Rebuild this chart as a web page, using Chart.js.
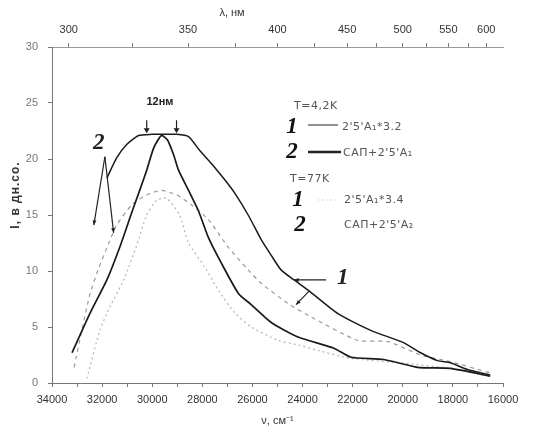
<!DOCTYPE html>
<html>
<head>
<meta charset="utf-8">
<script src="https://cdn.jsdelivr.net/npm/chart.js@4/dist/chart.umd.min.js"></script>
<style>
  body { margin: 0; background: #fff; }
  canvas { display: block; }
</style>
</head>
<body>
<canvas id="spectra" width="533" height="432"></canvas>
<script>
// wavenumber (cm-1) and intensity values
var nu_42_1 = [31810, 31420, 31020, 30540, 30020, 29550, 29030, 28550, 28120, 27640, 27160, 26720, 26170, 25650, 25250, 24860, 24340, 23780, 22590, 21280, 19970, 19290, 18610, 18100, 17420, 16510];
var int_42_1 = [18.3, 20.1, 21.3, 22.1, 22.2, 22.2, 22.2, 22.0, 20.8, 19.6, 18.3, 17.0, 15.0, 12.8, 11.4, 10.1, 9.2, 8.3, 6.2, 4.7, 3.6, 2.7, 2.0, 1.8, 1.2, 0.7];

var nu_42_2 = [33200, 32490, 31810, 31300, 30820, 30500, 30220, 29940, 29630, 29390, 29150, 28950, 28550, 28160, 27760, 27240, 26560, 26050, 25250, 24180, 22750, 22070, 20760, 19410, 18100, 16510];
var int_42_2 = [2.7, 6.2, 9.2, 12.1, 15.2, 17.2, 19.0, 21.0, 22.1, 21.7, 20.4, 19.0, 17.2, 15.4, 13.0, 10.7, 8.0, 7.0, 5.4, 4.1, 3.1, 2.3, 2.1, 1.4, 1.3, 0.6];

var nu_77_1 = [33120, 32810, 32490, 32130, 31730, 31420, 30820, 30220, 29630, 29030, 28430, 27760, 26960, 26170, 25650, 24580, 23660, 21790, 20600, 19290, 18100, 16510];
var int_77_1 = [1.4, 4.7, 7.9, 10.3, 12.5, 14.1, 15.9, 16.8, 17.2, 16.8, 15.9, 14.6, 12.1, 10.1, 8.9, 7.1, 5.9, 3.8, 3.7, 2.5, 1.9, 0.9];

var nu_77_2 = [32610, 32090, 31690, 31140, 30620, 30220, 29830, 29430, 28910, 28550, 27920, 27360, 26720, 26050, 24970, 24180, 23380, 22070, 20080, 18100, 16510];
var int_77_2 = [0.4, 4.7, 6.8, 9.2, 12.3, 15.0, 16.3, 16.5, 15.0, 12.5, 10.4, 8.3, 6.3, 5.0, 3.8, 3.4, 2.9, 2.2, 1.8, 1.3, 0.6];

// top axis: wavelength, nm
var lambdaMajor = [300, 350, 400, 450, 500, 550, 600];
var lambdaMinor = [325, 375, 425, 475, 525, 575];

// curve labels: [nu, I] of label and arrow ends
var label2 = { text: "2", at: [32130, 21.4], arrows: [[[31890, 20.2], [32330, 14.1]], [[31890, 20.2], [31540, 13.4]]] };
var label1 = { text: "1", at: [22400, 9.4], arrows: [[[23060, 9.2], [24340, 9.2]], [[23740, 8.2], [24260, 7.0]]] };
var peakMarks = [30220, 29030];

function pts(xs, ys) {
  return xs.map(function (x, i) { return { x: x, y: ys[i] }; });
}

var tickFont = { family: "Liberation Sans", size: 11 };

var annotate = {
  id: "annotate",
  afterDatasetsDraw: function (chart) {
    var ctx = chart.ctx;
    var xs = chart.scales.x, ys = chart.scales.y;
    function px(p) { return [xs.getPixelForValue(p[0]), ys.getPixelForValue(p[1])]; }
    ctx.save();
    ctx.strokeStyle = "#222";
    ctx.fillStyle = "#222";
    ctx.lineWidth = 1.2;
    [label2, label1].forEach(function (lab) {
      lab.arrows.forEach(function (a) {
        var p0 = px(a[0]), p1 = px(a[1]);
        ctx.beginPath();
        ctx.moveTo(p0[0], p0[1]);
        ctx.lineTo(p1[0], p1[1]);
        ctx.stroke();
        var ang = Math.atan2(p1[1] - p0[1], p1[0] - p0[0]);
        ctx.beginPath();
        ctx.moveTo(p1[0], p1[1]);
        ctx.lineTo(p1[0] - 5 * Math.cos(ang - 0.4), p1[1] - 5 * Math.sin(ang - 0.4));
        ctx.lineTo(p1[0] - 5 * Math.cos(ang + 0.4), p1[1] - 5 * Math.sin(ang + 0.4));
        ctx.closePath();
        ctx.fill();
      });
      var lp = px(lab.at);
      ctx.font = "italic bold 23px 'Liberation Serif'";
      ctx.textAlign = "center";
      ctx.textBaseline = "middle";
      ctx.fillText(lab.text, lp[0], lp[1]);
    });
    // small arrows over the two maxima
    peakMarks.forEach(function (v) {
      var x = xs.getPixelForValue(v), y = ys.getPixelForValue(22.3);
      ctx.beginPath();
      ctx.moveTo(x, y - 13);
      ctx.lineTo(x, y - 2);
      ctx.stroke();
      ctx.beginPath();
      ctx.moveTo(x, y);
      ctx.lineTo(x - 3, y - 5);
      ctx.lineTo(x + 3, y - 5);
      ctx.closePath();
      ctx.fill();
    });
    ctx.font = "bold 11px 'Liberation Sans'";
    ctx.textAlign = "center";
    ctx.fillText("12нм", 160, 102);

    // legend
    ctx.textAlign = "left";
    ctx.textBaseline = "middle";
    ctx.fillStyle = "#555";
    ctx.font = "11px 'DejaVu Sans'";
    ctx.letterSpacing = "0.5px";
    ctx.fillText("T=4,2K", 294, 106);
    ctx.fillText("T=77K", 290, 179);
    ctx.fillText("2'5'A\u2081*3.2", 342, 127);
    ctx.fillText("САП+2'5'A\u2081", 343, 153);
    ctx.fillText("2'5'A\u2081*3.4", 344, 200);
    ctx.fillText("САП+2'5'A\u2082", 344, 225);
    ctx.letterSpacing = "0px";
    ctx.fillStyle = "#111";
    ctx.textAlign = "center";
    ctx.font = "italic bold 23px 'Liberation Serif'";
    ctx.fillText("1", 292, 127);
    ctx.fillText("2", 292, 152);
    ctx.fillText("1", 298, 200);
    ctx.fillText("2", 300, 225);
    ctx.strokeStyle = "#555";
    ctx.lineWidth = 1.3;
    ctx.beginPath(); ctx.moveTo(308, 125); ctx.lineTo(338, 125); ctx.stroke();
    ctx.strokeStyle = "#222";
    ctx.lineWidth = 2.5;
    ctx.beginPath(); ctx.moveTo(308, 152); ctx.lineTo(341, 152); ctx.stroke();
    ctx.strokeStyle = "#ddd";
    ctx.lineWidth = 1;
    ctx.setLineDash([2, 2]);
    ctx.beginPath(); ctx.moveTo(318, 200); ctx.lineTo(338, 200); ctx.stroke();
    ctx.setLineDash([]);

    // axis titles
    ctx.fillStyle = "#333";
    ctx.font = "11px 'Liberation Sans'";
    ctx.textAlign = "center";
    ctx.fillText("λ, нм", 232, 13);
    ctx.translate(16, 195);
    ctx.rotate(-Math.PI / 2);
    ctx.font = "bold 12px 'Liberation Sans'";
    ctx.letterSpacing = "1px";
    ctx.fillText("I, в дн.со.", 0, 0);
    ctx.restore();
  }
};

new Chart(document.getElementById("spectra"), {
  type: "line",
  data: {
    datasets: [
      { label: "4.2K 1", data: pts(nu_42_1, int_42_1), borderColor: "#1a1a1a", borderWidth: 1.5 },
      { label: "4.2K 2", data: pts(nu_42_2, int_42_2), borderColor: "#1a1a1a", borderWidth: 1.7 },
      { label: "77K 1", data: pts(nu_77_1, int_77_1), borderColor: "#9a9a9a", borderWidth: 1.2, borderDash: [4, 4] },
      { label: "77K 2", data: pts(nu_77_2, int_77_2), borderColor: "#b5b5b5", borderWidth: 1.2, borderDash: [2, 3] }
    ]
  },
  options: {
    responsive: false,
    animation: false,
    devicePixelRatio: 1,
    layout: { padding: { left: 0, right: 30, top: 0, bottom: 0 } },
    elements: { point: { radius: 0 }, line: { tension: 0.2, fill: false } },
    plugins: { legend: { display: false }, tooltip: { enabled: false } },
    scales: {
      x: {
        type: "linear",
        reverse: true,
        min: 16000,
        max: 34000,
        afterFit: function (s) { s.height = 49; },
        ticks: {
          stepSize: 1000,
          autoSkip: false,
          maxRotation: 0,
          padding: 6,
          color: "#333",
          font: tickFont,
          callback: function (v) { return v % 2000 === 0 ? String(v) : ""; }
        },
        grid: { drawOnChartArea: false, tickLength: 4, color: "#777" },
        border: { color: "#777" },
        title: { display: true, text: "ν, см⁻¹", color: "#333", font: { family: "Liberation Sans", size: 11 }, padding: { top: 0 } }
      },
      xTop: {
        type: "linear",
        position: "top",
        reverse: true,
        min: 16000,
        max: 34000,
        afterFit: function (s) { s.height = 47; },
        afterBuildTicks: function (s) {
          s.ticks = lambdaMajor.concat(lambdaMinor).map(function (l) { return { value: 1e7 / l }; });
        },
        ticks: {
          autoSkip: false,
          maxRotation: 0,
          padding: 6,
          color: "#333",
          font: tickFont,
          callback: function (v) {
            var l = Math.round(1e7 / v);
            return lambdaMajor.indexOf(l) >= 0 ? String(l) : "";
          }
        },
        grid: { drawOnChartArea: false, tickLength: 4, color: "#777" },
        border: { color: "#999" }
      },
      y: {
        min: 0,
        max: 30,
        afterFit: function (s) { s.width = 52; },
        ticks: { stepSize: 5, padding: 10, color: "#777", font: tickFont },
        grid: { drawOnChartArea: false, tickLength: 4, color: "#777" },
        border: { color: "#777" }
      }
    }
  },
  plugins: [annotate]
});
</script>
</body>
</html>
